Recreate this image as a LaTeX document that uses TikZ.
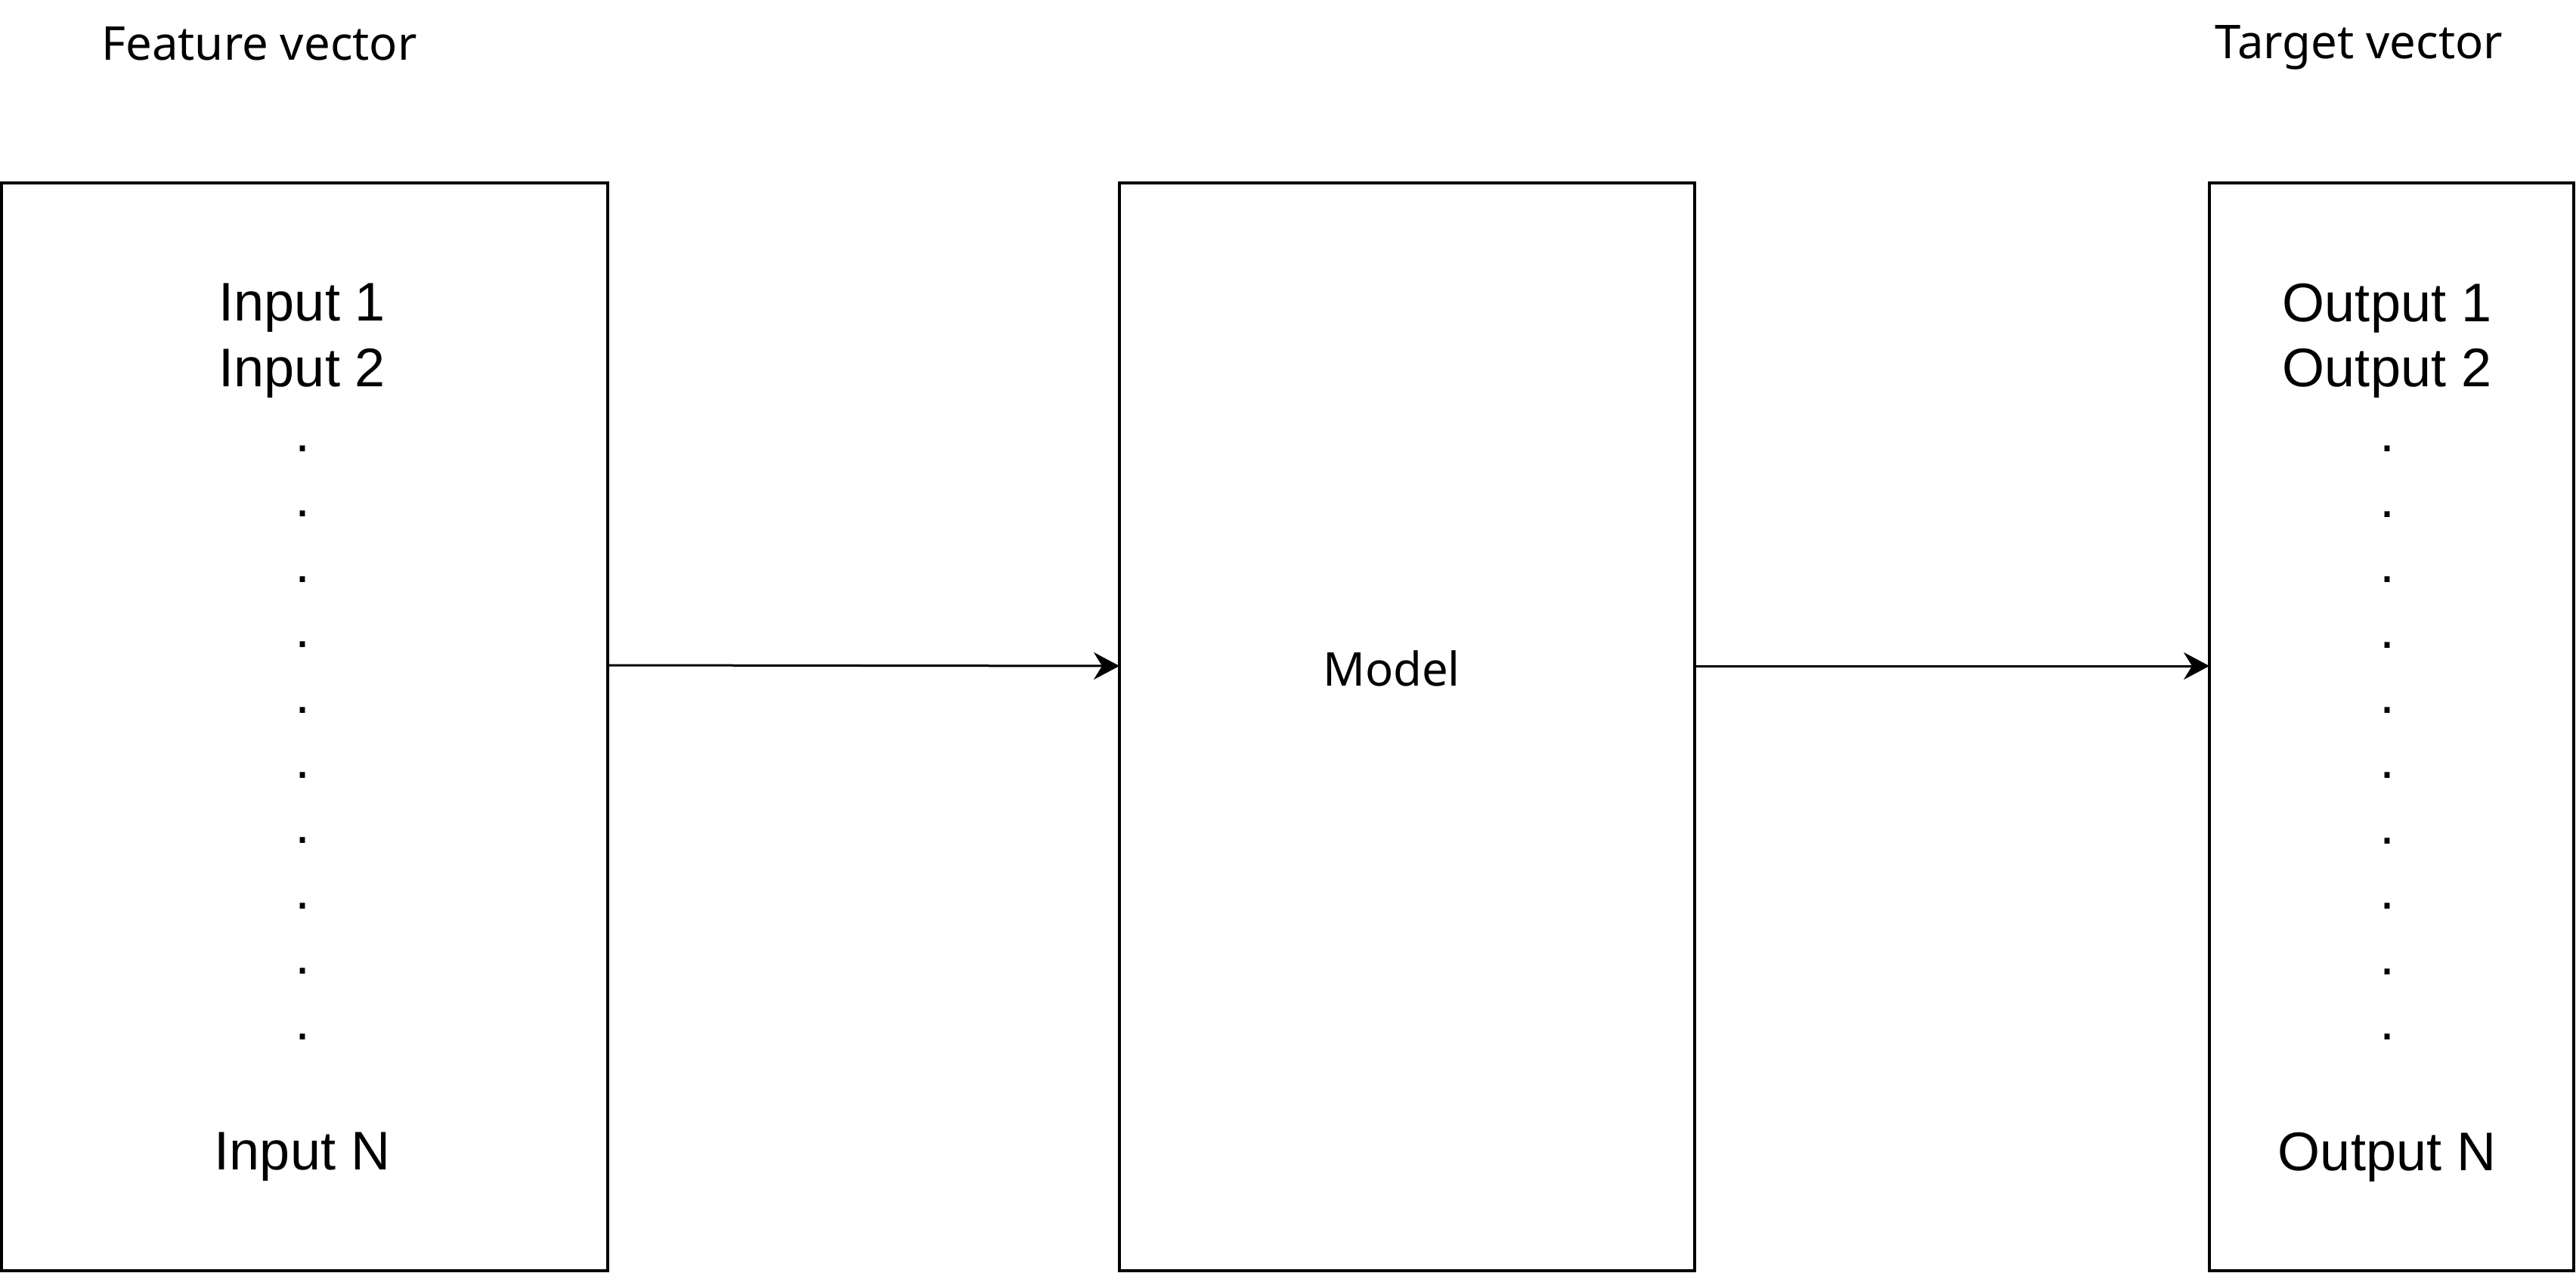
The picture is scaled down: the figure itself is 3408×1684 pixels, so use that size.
\documentclass[tikz,border=0pt]{standalone}
\usepackage{fontspec}
\setmainfont{Liberation Sans}
\newfontfamily\labelfont{Noto Sans}
\usetikzlibrary{arrows.meta}
\tikzset{
  box/.style={draw=black, line width=1.7pt, rectangle, inner sep=0pt, outer sep=0pt, minimum height=719.5pt},
  listtext/.style={align=center, inner sep=0pt, font=\fontsize{36}{43.2}\selectfont},
  lbl/.style={font=\labelfont\fontsize{30.8}{36}\selectfont, inner sep=0pt, anchor=base},
  arr/.style={line width=1.5pt, -{Stealth[length=17pt, width=18pt, inset=5.5pt]}}
}
\begin{document}
\begin{tikzpicture}[x=0.5pt, y=-0.5pt]
\useasboundingbox (0,0) rectangle (3408,1684);
\node[box, minimum width=401pt] (in) at (403,961.5) {};
\node[box, minimum width=380.5pt] (model) at (1861.5,961.5) {};
\node[box, minimum width=241pt] (out) at (3164,961.5) {};
\node[listtext] (intext) at (400,969)
  {Input 1\\Input 2\\.\\.\\.\\.\\.\\.\\.\\.\\.\\.\\\mbox{}\\Input N};
\node[listtext] (outtext) at (3158,969)
  {Output 1\\Output 2\\.\\.\\.\\.\\.\\.\\.\\.\\.\\.\\\mbox{}\\Output N};
\node[lbl] (mlabel) at (1841,907) {Model};
\node[lbl] (feat) at (343,80) {Feature vector};
\node[lbl] (targ) at (3121,78) {Target vector};
\draw[arr] ([yshift=40.75pt]in.east) -- ([yshift=40.25pt]model.west);
\draw[arr] ([yshift=40.25pt]model.east) -- ([yshift=40.25pt]out.west);
\end{tikzpicture}
\end{document}
